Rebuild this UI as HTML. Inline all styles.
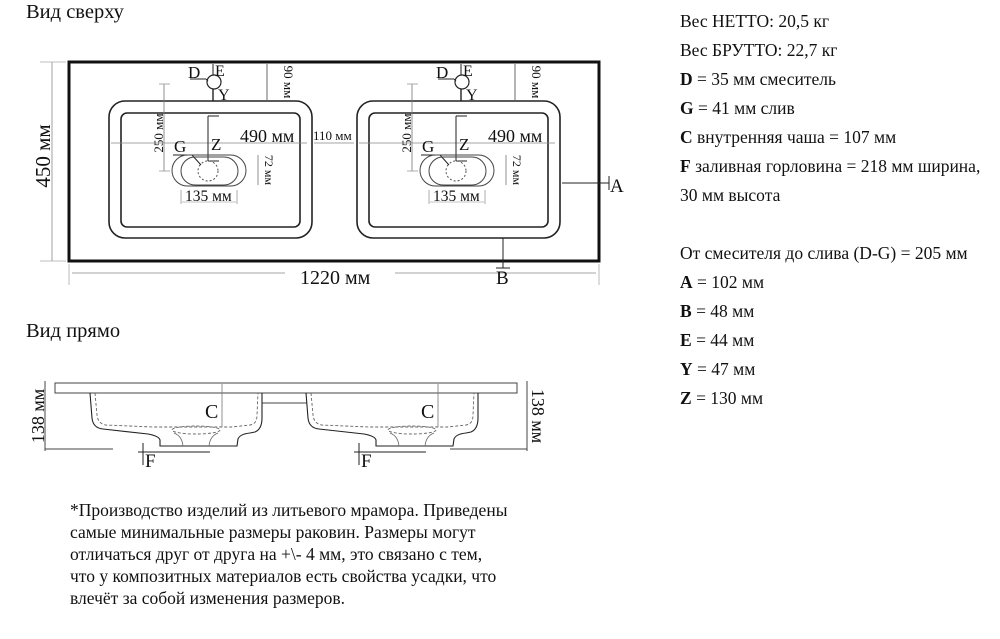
<!DOCTYPE html>
<html><head><meta charset="utf-8"><style>
body{margin:0;background:#fff;width:1000px;height:639px;overflow:hidden}
svg{display:block}
text{font-family:"Liberation Serif",serif;fill:#111}
.r text{font-size:17.5px}
</style></head><body>
<svg width="1000" height="639" viewBox="0 0 1000 639">
<defs>
<g id="sink">
 <rect x="109" y="101" width="203" height="137" rx="16" fill="none" stroke="#222" stroke-width="1.6"/>
 <rect x="121" y="113" width="179" height="114" rx="6" fill="none" stroke="#222" stroke-width="1.6"/>
 <circle cx="214" cy="82" r="7" fill="#fff" stroke="#222" stroke-width="1.2"/>
 <line x1="213" y1="89" x2="213" y2="101" stroke="#222" stroke-width="1.4"/>
 <line x1="213" y1="64" x2="213" y2="75" stroke="#222" stroke-width="1"/>
 <line x1="190" y1="79" x2="206" y2="79" stroke="#222" stroke-width="1"/>
 <line x1="206" y1="79" x2="208" y2="81" stroke="#222" stroke-width="1"/>
 <text x="188" y="78" font-size="17">D</text>
 <text x="215" y="76" font-size="16">E</text>
 <text x="218" y="100" font-size="16">Y</text>
 <line x1="267" y1="64" x2="267" y2="100" stroke="#444" stroke-width="0.8"/>
 <text transform="translate(284,82) rotate(90)" font-size="13" text-anchor="middle">90 мм</text>
 <line x1="164" y1="84" x2="164" y2="171" stroke="#777" stroke-width="0.8"/>
 <line x1="159" y1="84" x2="170" y2="84" stroke="#999" stroke-width="0.8"/>
 <line x1="159" y1="171" x2="170" y2="171" stroke="#999" stroke-width="0.8"/>
 <text transform="translate(163,133) rotate(-90)" font-size="13" text-anchor="middle">250 мм</text>
 <line x1="111" y1="143" x2="307" y2="143" stroke="#888" stroke-width="0.8"/>
 <text x="240" y="142" font-size="18">490 мм</text>
 <text x="174" y="152" font-size="17">G</text>
 <line x1="173" y1="155" x2="192" y2="155" stroke="#222" stroke-width="1"/>
 <line x1="192" y1="155" x2="201" y2="165" stroke="#222" stroke-width="1"/>
 <text x="211" y="150" font-size="17">Z</text>
 <line x1="208" y1="116" x2="208" y2="161" stroke="#222" stroke-width="1"/>
 <line x1="208" y1="116" x2="219" y2="116" stroke="#222" stroke-width="1"/>
 <line x1="208" y1="161" x2="219" y2="161" stroke="#222" stroke-width="1"/>
 <rect x="172" y="155" width="74" height="31" rx="15.5" fill="none" stroke="#444" stroke-width="1"/>
 <rect x="181" y="157" width="57" height="28" rx="14" fill="none" stroke="#444" stroke-width="1"/>
 <circle cx="208" cy="171" r="10" fill="none" stroke="#555" stroke-width="1" stroke-dasharray="2,2"/>
 <line x1="258" y1="155" x2="258" y2="185" stroke="#777" stroke-width="0.8"/>
 <text transform="translate(265,170) rotate(90)" font-size="12" text-anchor="middle">72 мм</text>
 <line x1="181" y1="190" x2="181" y2="204" stroke="#999" stroke-width="0.8"/>
 <line x1="237" y1="190" x2="237" y2="204" stroke="#999" stroke-width="0.8"/>
 <line x1="182" y1="202" x2="236" y2="202" stroke="#888" stroke-width="0.6"/>
 <text x="185" y="201" font-size="15.5">135 мм</text>
</g>
<g id="bowl">
 <path d="M90 393 L92 418 Q93 428 103 429 L148 434 Q159 436 160 440 L160 446 L237 446 L238 439 Q240 434 250 433 L255 432 Q262 429 262 418 L262 393" fill="none" stroke="#222" stroke-width="1.1"/>
 <path d="M95 393 L97 415 Q98 424 106 425 L153 427 L232 427 L250 425 Q257 424 257 415 L258 393" fill="none" stroke="#666" stroke-width="0.9" stroke-dasharray="3,2"/>
 <ellipse cx="196" cy="430" rx="24" ry="4" fill="none" stroke="#666" stroke-width="0.9" stroke-dasharray="3,2"/>
 <path d="M174 433 Q182 436 183 446 M218 433 Q210 436 209 446" fill="none" stroke="#666" stroke-width="0.8"/>
 <line x1="138" y1="452" x2="210" y2="452" stroke="#222" stroke-width="1.1"/>
 <line x1="143" y1="443" x2="143" y2="465" stroke="#222" stroke-width="1"/>
 <text x="145" y="467" font-size="19">F</text>
 <line x1="222" y1="384" x2="222" y2="427" stroke="#777" stroke-width="0.8"/>
 <text x="205" y="418" font-size="20">C</text>
</g>
</defs>

<text x="26" y="18" font-size="20.5">Вид сверху</text>
<rect x="69" y="62" width="530" height="199" fill="none" stroke="#111" stroke-width="3"/>
<use href="#sink"/>
<use href="#sink" transform="translate(248,0)"/>
<line x1="314" y1="143" x2="354" y2="143" stroke="#888" stroke-width="0.8"/>
<text x="313" y="140" font-size="13">110 мм</text>
<line x1="52" y1="62" x2="52" y2="261" stroke="#888" stroke-width="0.8"/>
<line x1="40" y1="62" x2="66" y2="62" stroke="#aaa" stroke-width="0.8"/>
<line x1="40" y1="261" x2="66" y2="261" stroke="#aaa" stroke-width="0.8"/>
<text transform="translate(50,156) rotate(-90)" font-size="21" text-anchor="middle">450 мм</text>
<line x1="69" y1="264" x2="69" y2="285" stroke="#aaa" stroke-width="0.8"/>
<line x1="599" y1="264" x2="599" y2="285" stroke="#aaa" stroke-width="0.8"/>
<line x1="72" y1="273" x2="285" y2="273" stroke="#888" stroke-width="0.8"/>
<line x1="395" y1="273" x2="596" y2="273" stroke="#888" stroke-width="0.8"/>
<text x="300" y="284" font-size="20">1220 мм</text>
<line x1="562" y1="183" x2="609" y2="183" stroke="#222" stroke-width="1"/>
<line x1="609" y1="176" x2="609" y2="190" stroke="#222" stroke-width="1"/>
<text x="610" y="192" font-size="19">A</text>
<line x1="503" y1="238" x2="503" y2="268" stroke="#222" stroke-width="1"/>
<line x1="496" y1="268" x2="510" y2="268" stroke="#222" stroke-width="1"/>
<text x="496" y="284" font-size="19">B</text>

<text x="26" y="337" font-size="20.5">Вид прямо</text>
<rect x="55" y="383" width="462" height="10" fill="none" stroke="#444" stroke-width="1"/>
<line x1="262" y1="403" x2="307" y2="403" stroke="#444" stroke-width="1"/>
<use href="#bowl"/>
<use href="#bowl" transform="translate(216,0)"/>
<line x1="45" y1="381" x2="45" y2="451" stroke="#444" stroke-width="1"/>
<line x1="45" y1="449" x2="113" y2="449" stroke="#444" stroke-width="1"/>
<line x1="450" y1="449" x2="527" y2="449" stroke="#444" stroke-width="1"/>
<line x1="527" y1="381" x2="527" y2="451" stroke="#444" stroke-width="1"/>
<text transform="translate(44,416) rotate(-90)" font-size="18" text-anchor="middle">138 мм</text>
<text transform="translate(532,416) rotate(90)" font-size="18" text-anchor="middle">138 мм</text>

<g>
<text x="70" y="516" font-size="17.5">*Производство изделий из литьевого мрамора. Приведены</text>
<text x="70" y="538" font-size="17.5">самые минимальные размеры раковин. Размеры могут</text>
<text x="70" y="560" font-size="17.5">отличаться друг от друга на +\- 4 мм, это связано с тем,</text>
<text x="70" y="582" font-size="17.5">что у композитных материалов есть свойства усадки, что</text>
<text x="70" y="604" font-size="17.5">влечёт за собой изменения размеров.</text>
</g>

<g class="r">
<text x="680" y="27">Вес НЕТТО: 20,5 кг</text>
<text x="680" y="56">Вес БРУТТО: 22,7 кг</text>
<text x="680" y="85"><tspan font-weight="bold">D</tspan> = 35 мм смеситель</text>
<text x="680" y="114"><tspan font-weight="bold">G</tspan> = 41 мм слив</text>
<text x="680" y="143"><tspan font-weight="bold">C</tspan> внутренняя чаша = 107 мм</text>
<text x="680" y="172"><tspan font-weight="bold">F</tspan> заливная горловина = 218 мм ширина,</text>
<text x="680" y="201">30 мм высота</text>
<text x="680" y="259">От смесителя до слива (D-G) = 205 мм</text>
<text x="680" y="288"><tspan font-weight="bold">A</tspan> = 102 мм</text>
<text x="680" y="317"><tspan font-weight="bold">B</tspan> = 48 мм</text>
<text x="680" y="346"><tspan font-weight="bold">E</tspan> = 44 мм</text>
<text x="680" y="375"><tspan font-weight="bold">Y</tspan> = 47 мм</text>
<text x="680" y="404"><tspan font-weight="bold">Z</tspan> = 130 мм</text>
</g>
</svg>
</body></html>
